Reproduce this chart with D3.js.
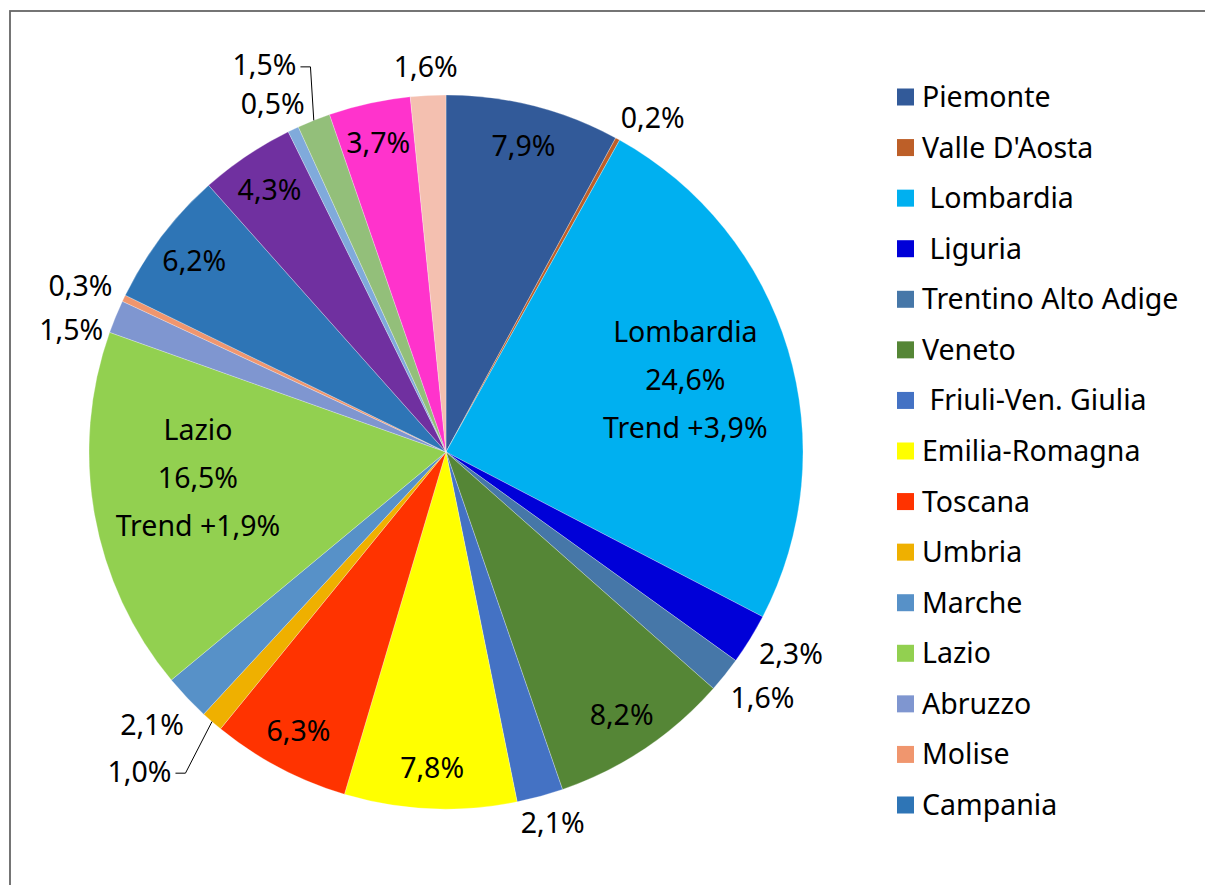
<!DOCTYPE html>
<html lang="it">
<head>
<meta charset="UTF-8">
<title>Regioni</title>
<script src="https://d3js.org/d3.v7.min.js"></script>
<style>
  body { margin: 0; background: #fff; }
  svg { display: block; font-family: "Noto Sans", "Open Sans", sans-serif; }
  text { white-space: pre; }
</style>
</head>
<body>
<div id="chart"></div>
<script>
// Data
const regions = ["Piemonte", "Valle D'Aosta", " Lombardia", " Liguria", "Trentino Alto Adige", "Veneto",
  " Friuli-Ven. Giulia", "Emilia-Romagna", "Toscana", "Umbria", "Marche", "Lazio", "Abruzzo", "Molise",
  "Campania", "Puglia", "Basilicata", "Calabria", "Sicilia", "Sardegna"];
const shares = [7.9, 0.2, 24.6, 2.3, 1.6, 8.2, 2.1, 7.8, 6.3, 1.0, 2.1, 16.5, 1.5, 0.3, 6.2, 4.3, 0.5, 1.5, 3.7, 1.6];
const trends = { " Lombardia": "+3,9%", "Lazio": "+1,9%" };
const legendCount = 15;   // legend in the original is cut after Campania
const colors = ["#325a99", "#bd5f28", "#00b0f0", "#0000d8", "#4677a8", "#558636", "#4472c4", "#ffff00",
  "#ff3300", "#efb000", "#5791c8", "#92d050", "#7f96d0", "#f0966e", "#2e75b6", "#7030a0", "#80aadb",
  "#93bf7a", "#ff33cc", "#f4c0b0"];

const W = 1205, H = 885;
const cx = 446, cy = 452, R = 357;
const FS = 28.5;
// Excel's best-fit moved a few labels; small manual nudges
const nudge = { "Lazio": [-2, -18], "Marche": [0, 8], "Valle D'Aosta": [12, 4], "Umbria": [-10, 4], "Calabria": [6, 5] };

const data = regions.map((name, i) => ({ name, value: shares[i], color: colors[i] }));
const fmt = v => v.toFixed(1).replace(".", ",") + "%";

const svg = d3.select("#chart").append("svg").attr("width", W).attr("height", H);

// outer frame (right/bottom edges fall outside the picture)
svg.append("rect").attr("x", 10).attr("y", 11).attr("width", W + 20).attr("height", H + 20)
  .attr("fill", "none").attr("stroke", "#666").attr("stroke-width", 1.8);

const pie = d3.pie().value(d => d.value).sort(null);
const arcs = pie(data);
const arc = d3.arc().innerRadius(0).outerRadius(R);

const g = svg.append("g").attr("transform", `translate(${cx},${cy})`);
g.selectAll("path").data(arcs).enter().append("path")
  .attr("d", arc)
  .attr("fill", d => d.data.color)
  .attr("stroke", "rgba(255,255,255,0.45)")
  .attr("stroke-width", 0.6);

// label helpers
const polar = (a, r) => [r * Math.sin(a), -r * Math.cos(a)];
const mid = d => (d.startAngle + d.endAngle) / 2;
const leaders = new Set(["Umbria", "Calabria"]);

const labels = g.append("g").attr("font-size", FS).attr("fill", "#000");
const outside = [];

arcs.forEach(d => {
  const name = d.data.name;
  const a = mid(d);
  const pct = d.data.value;
  const [nx, ny] = nudge[name] || [0, 0];
  if (trends[name] !== undefined) {
    const [x, y] = polar(a, R * 0.7);
    const t = labels.append("text").attr("text-anchor", "middle");
    [name.trim(), fmt(pct), "Trend " + trends[name]].forEach((s, i) => {
      t.append("tspan").attr("x", x + nx).attr("y", y + ny + (i - 1) * 48).attr("dy", "0.35em").text(s);
    });
  } else if (leaders.has(name)) {
    const edge = polar(a, R);
    const far = polar(a, 420);
    const side = Math.sin(a) < 0 ? -1 : 1;
    const elbow = [edge[0] + (far[0] - edge[0]) * 0.4 + nx, far[1] + ny];
    const end = [elbow[0] + side * 10, elbow[1]];
    labels.append("path")
      .attr("d", `M${edge[0]},${edge[1]}L${elbow[0]},${elbow[1]}L${end[0]},${end[1]}`)
      .attr("fill", "none").attr("stroke", "#000").attr("stroke-width", 1);
    labels.append("text").attr("text-anchor", side < 0 ? "end" : "start")
      .attr("x", end[0] + side * 4).attr("y", end[1]).attr("dy", "0.3em").text(fmt(pct));
  } else if (pct >= 3) {
    const [x, y] = polar(a, R * 0.885);
    labels.append("text").attr("text-anchor", "middle").attr("x", x + nx).attr("y", y + ny)
      .attr("dy", "0.35em").text(fmt(pct));
  } else {
    // label box sits just outside the rim
    const p = polar(a, R + 14);
    outside.push({ text: fmt(pct), side: Math.sin(a) < 0 ? -1 : 1,
      x: p[0] + Math.sin(a) * 34 + nx, y: p[1] - Math.cos(a) * 14 + ny });
  }
});

// push overlapping outside labels apart, per side
[-1, 1].forEach(side => {
  const list = outside.filter(o => o.side === side).sort((p, q) => p.y - q.y);
  for (let i = 1; i < list.length; i++) {
    if (Math.abs(list[i].x - list[i - 1].x) < 80 && list[i].y - list[i - 1].y < 44) {
      list[i].y = list[i - 1].y + 44;
    }
  }
});
labels.selectAll("text.out").data(outside).enter().append("text")
  .attr("class", "out").attr("text-anchor", "middle")
  .attr("x", o => o.x).attr("y", o => o.y).attr("dy", "0.35em").text(o => o.text);

// legend
const ly = d3.scalePoint().domain(d3.range(legendCount)).range([97, 805]);
const legend = svg.append("g").attr("font-size", FS);
data.slice(0, legendCount).forEach((d, i) => {
  const row = legend.append("g").attr("transform", `translate(897,${ly(i)})`);
  row.append("rect").attr("x", 0).attr("y", -8.5).attr("width", 17).attr("height", 17).attr("fill", d.color);
  row.append("text").attr("x", 25).attr("y", 0).attr("dy", "0.35em").text(d.name);
});
</script>
</body>
</html>
